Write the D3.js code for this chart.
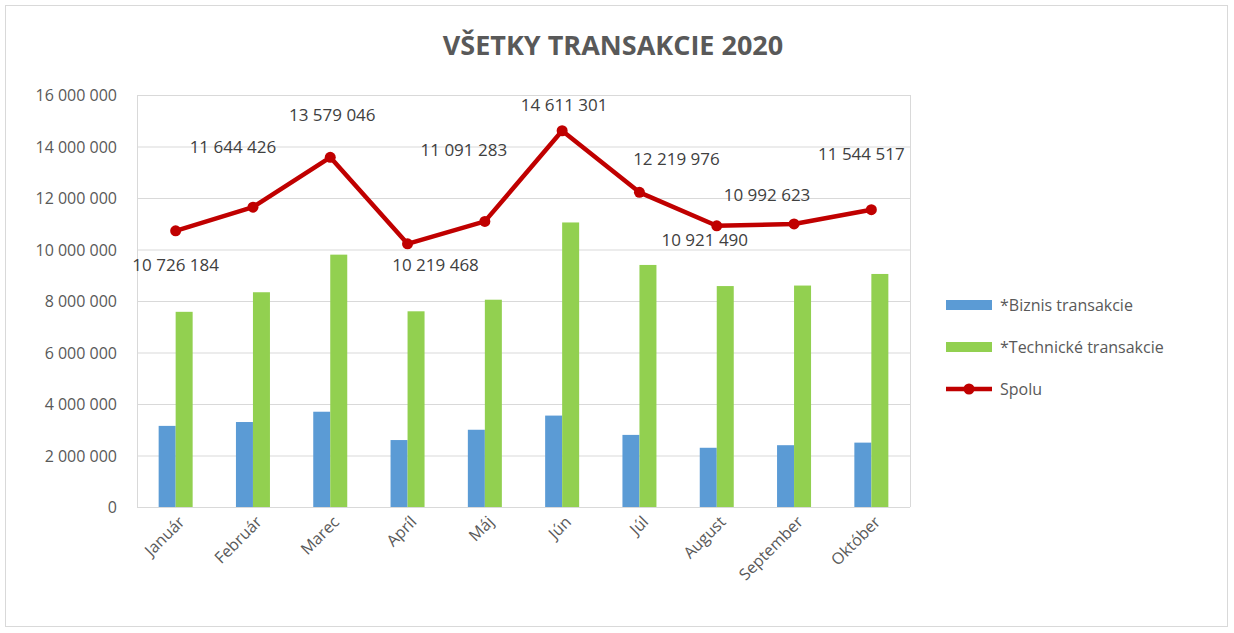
<!DOCTYPE html>
<html><head><meta charset="utf-8">
<script src="https://cdn.jsdelivr.net/npm/d3@7"></script>
<style>body{margin:0;background:#fff}</style>
</head><body>
<svg width="1234" height="633"></svg>
<script>
// Data
const months = ["Január", "Február", "Marec", "Apríl", "Máj", "Jún", "Júl", "August", "September", "Október"];
const biznis = [3150000, 3300000, 3700000, 2600000, 3000000, 3550000, 2800000, 2300000, 2400000, 2500000];
const technicke = [7580000, 8340000, 9800000, 7600000, 8050000, 11050000, 9400000, 8580000, 8600000, 9050000];
const spolu = [10726184, 11644426, 13579046, 10219468, 11091283, 14611301, 12219976, 10921490, 10992623, 11544517];
const yTicks = [0, 2000000, 4000000, 6000000, 8000000, 10000000, 12000000, 14000000, 16000000];
// label offsets (layout only)
const labelOffsets = [[0, 40], [-20, -54], [2, -36], [28, 27], [-21, -65], [2, -20], [37, -27], [-12, 20], [-27, -23], [-10, -50]];

const fmt = d => d3.format(",")(d).replace(/,/g, " ");
const font = "'Open Sans', sans-serif";

const svg = d3.select("svg");
svg.append("rect").attr("x", 5.5).attr("y", 5.5).attr("width", 1222).attr("height", 621)
   .attr("fill", "#fff").attr("stroke", "#d9d9d9");

const plotLeft = 137, plotRight = 910, plotTop = 95, plotBottom = 507;
const x = d3.scaleBand().domain(months).range([plotLeft, plotRight]);
const y = d3.scaleLinear().domain([0, 16000000]).range([plotBottom, plotTop]);

// gridlines
svg.append("g").selectAll("line").data(yTicks).join("line")
   .attr("x1", plotLeft).attr("x2", plotRight).attr("y1", d => y(d) + 0.5).attr("y2", d => y(d) + 0.5)
   .attr("stroke", "#d9d9d9");
svg.append("line").attr("x1", plotLeft + 0.5).attr("x2", plotLeft + 0.5).attr("y1", plotTop).attr("y2", plotBottom).attr("stroke", "#d9d9d9");
svg.append("line").attr("x1", plotRight + 0.5).attr("x2", plotRight + 0.5).attr("y1", plotTop).attr("y2", plotBottom).attr("stroke", "#d9d9d9");

// y labels
svg.append("g").selectAll("text").data(yTicks).join("text")
   .attr("x", 117).attr("y", d => y(d) + 6).attr("text-anchor", "end")
   .style("font-family", font).style("font-size", "16px").style("fill", "#595959")
   .text(fmt);

// bars
const bw = 17;
svg.append("g").selectAll("rect").data(biznis).join("rect")
   .attr("x", (d, i) => x(months[i]) + x.bandwidth() / 2 - bw).attr("width", bw)
   .attr("y", d => y(d)).attr("height", d => plotBottom - y(d)).attr("fill", "#5b9bd5");
svg.append("g").selectAll("rect").data(technicke).join("rect")
   .attr("x", (d, i) => x(months[i]) + x.bandwidth() / 2).attr("width", bw)
   .attr("y", d => y(d)).attr("height", d => plotBottom - y(d)).attr("fill", "#92d050");

// line
const cx = i => x(months[i]) + x.bandwidth() / 2;
svg.append("path").datum(spolu)
   .attr("d", d3.line().x((d, i) => cx(i)).y(d => y(d)))
   .attr("fill", "none").attr("stroke", "#c00000").attr("stroke-width", 4.5).attr("stroke-linejoin", "round");
svg.append("g").selectAll("circle").data(spolu).join("circle")
   .attr("cx", (d, i) => cx(i)).attr("cy", d => y(d)).attr("r", 5.5).attr("fill", "#c00000");
svg.append("g").selectAll("text").data(spolu).join("text")
   .attr("x", (d, i) => cx(i) + labelOffsets[i][0]).attr("y", (d, i) => y(d) + labelOffsets[i][1])
   .attr("text-anchor", "middle")
   .style("font-family", font).style("font-size", "17px").style("fill", "#404040")
   .text(fmt);

// x labels
svg.append("g").selectAll("text").data(months).join("text")
   .attr("transform", d => `translate(${x(d) + x.bandwidth() / 2 + 10},${plotBottom + 16}) rotate(-45)`)
   .attr("text-anchor", "end")
   .style("font-family", font).style("font-size", "16px").style("fill", "#595959")
   .text(d => d);

// title
svg.append("text").attr("x", 613).attr("y", 55).attr("text-anchor", "middle")
   .style("font-family", font).style("font-size", "27px").style("font-weight", "bold").style("fill", "#595959")
   .text("VŠETKY TRANSAKCIE 2020");

// legend
const leg = svg.append("g").attr("transform", "translate(946,0)");
const legItems = [["*Biznis transakcie", "#5b9bd5", "rect"], ["*Technické transakcie", "#92d050", "rect"], ["Spolu", "#c00000", "line"]];
legItems.forEach((d, i) => {
  const yy = 305 + i * 42;
  if (d[2] === "rect") {
    leg.append("rect").attr("x", 0).attr("y", yy - 5).attr("width", 46).attr("height", 10).attr("fill", d[1]);
  } else {
    leg.append("line").attr("x1", 0).attr("x2", 46).attr("y1", yy).attr("y2", yy).attr("stroke", d[1]).attr("stroke-width", 4.5);
    leg.append("circle").attr("cx", 23).attr("cy", yy).attr("r", 5.5).attr("fill", d[1]);
  }
  leg.append("text").attr("x", 54).attr("y", yy + 6)
     .style("font-family", font).style("font-size", "16px").style("fill", "#595959").text(d[0]);
});
</script>
</body></html>
